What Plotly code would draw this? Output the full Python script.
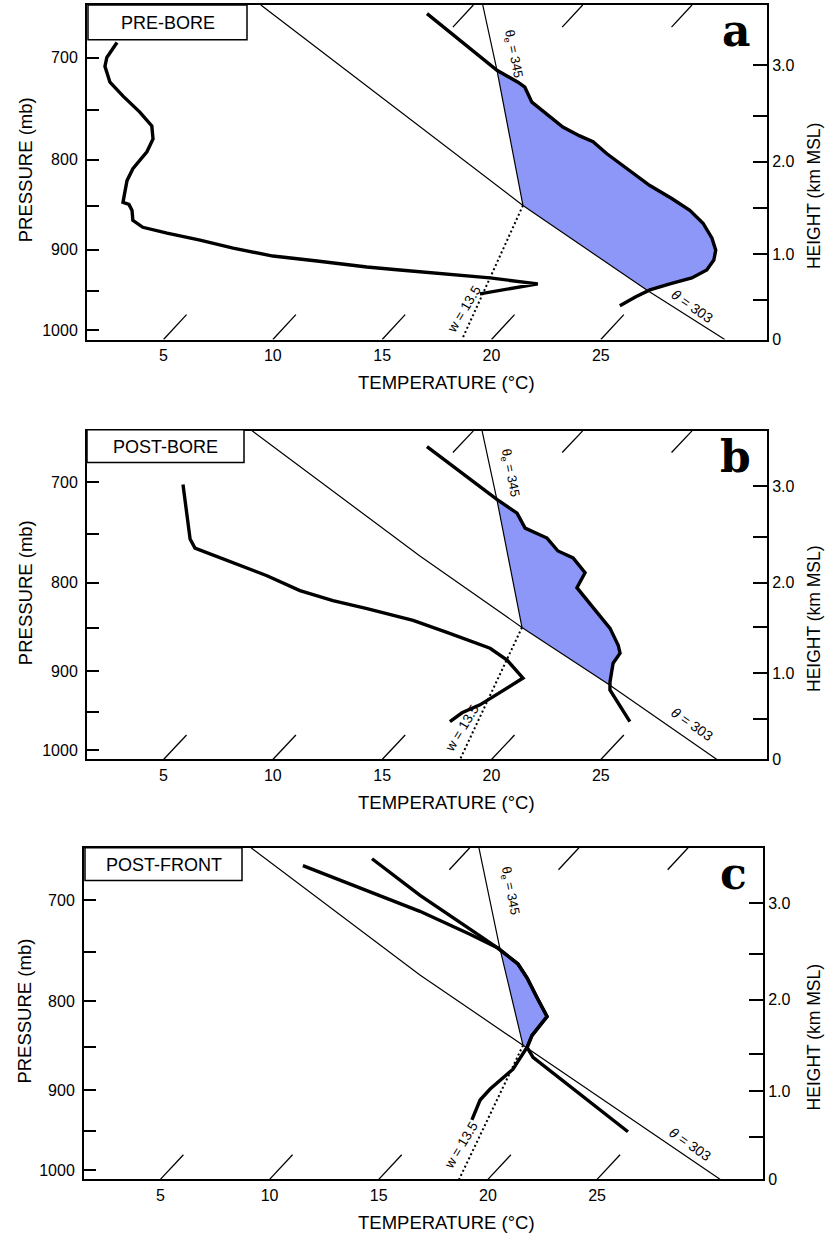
import numpy as np
import plotly.graph_objects as go

# ---------------- sounding data (pressure in mb, temperature in degC) ----------------
# (a) PRE-BORE
a_temp_p = [661.0, 711.8, 722.9, 727.7, 742.0, 753.6, 766.5, 775.5, 781.5, 793.8, 809.4, 827.5,
            841.6, 854.8, 869.3, 886.4, 900.4, 912.1, 924.1, 933.7, 941.0, 948.4, 957.0, 968.3]
a_temp_T = [3.25, 8.85, 10.31, 10.84, 11.79, 12.98, 14.26, 15.41, 16.27, 17.41, 18.95, 20.72,
            22.27, 23.60, 24.75, 25.79, 26.47, 26.80, 26.90, 26.55, 25.80, 25.14, 24.79, 24.44]
a_dew_p = [686.3, 699.9, 708.1, 722.9, 736.2, 751.7, 765.5, 778.5, 791.8, 809.4, 822.2, 836.1,
           846.0, 848.2, 854.8, 866.0, 873.9, 880.7, 888.7, 898.0, 907.4, 913.3, 920.5, 924.1,
           928.9, 933.7, 941.0, 953.3]
a_dew_T = [-9.71, -9.54, -9.25, -8.35, -7.16, -5.72, -4.58, -3.98, -3.71, -3.64, -3.40, -2.95,
           -2.66, -2.30, -1.91, -1.45, -0.70, 0.66, 2.46, 4.31, 6.47, 8.70, 11.23, 12.86,
           15.32, 17.32, 19.76, 17.53]
a_theta_p = [653.5, 766.5, 849.3, 949.6, 1012.0]
a_theta_T = [-4.72, 7.73, 15.76, 25.09, 30.67]
a_thetae_p = [653.5, 711.8, 849.3]
a_thetae_T = [5.43, 8.85, 15.76]
a_w_p = [849.3, 1012.0]
a_w_T = [15.76, 18.65]
a_height_p = [1011.9, 960.8, 905.1, 852.7, 802.2, 755.7, 707.3]

# (b) POST-BORE
b_temp_p = [667.4, 715.9, 729.2, 743.8, 753.7, 766.8, 773.9, 789.4, 805.2, 832.2, 850.0, 869.3,
            878.6, 890.3, 912.9, 922.6, 937.3, 962.4]
b_temp_T = [3.56, 9.03, 10.55, 11.56, 12.99, 14.05, 15.04, 16.23, 16.50, 18.48, 19.77, 20.87,
            21.30, 21.41, 22.08, 22.42, 23.26, 24.70]
b_dew_p = [701.8, 732.1, 754.7, 763.8, 779.0, 792.5, 808.4, 819.2, 827.9, 841.1, 854.5, 872.8,
           886.7, 908.1, 941.1, 951.1, 962.4]
b_dew_T = [-5.97, -4.42, -3.29, -2.68, -0.30, 1.81, 3.96, 5.90, 7.80, 10.42, 12.48, 15.14,
           16.43, 17.93, 17.12, 16.64, 16.47]
b_theta_p = [653.5, 771.9, 848.9, 915.3, 1012.0]
b_theta_T = [-5.12, 7.95, 15.70, 22.08, 30.31]
b_thetae_p = [653.5, 715.9, 848.9]
b_thetae_T = [5.40, 9.03, 15.70]
b_w_p = [848.9, 1012.0]
b_w_T = [15.70, 18.56]
b_height_p = [1011.9, 958.6, 902.1, 848.9, 799.9, 752.7, 703.7]

# (c) POST-FRONT
c_temp_p = [663.0, 695.9, 729.5, 745.9, 761.7, 775.8, 796.4, 816.4, 837.0, 850.2, 861.5, 950.4]
c_temp_T = [0.99, 4.76, 8.71, 10.57, 12.17, 13.18, 14.49, 15.75, 15.87, 16.15, 16.85, 24.38]
c_dew_p = [669.1, 691.4, 710.6, 732.4, 745.9, 761.7, 775.8, 796.4, 816.4, 837.0, 850.2, 875.1,
           898.3, 911.4, 935.5]
c_dew_T = [-1.88, 2.11, 5.43, 8.70, 10.57, 12.17, 13.18, 14.49, 15.75, 15.87, 16.15, 16.44,
           16.24, 16.25, 16.72]
c_theta_p = [653.5, 772.8, 848.0, 1012.0]
c_theta_T = [-5.02, 8.15, 15.88, 30.63]
c_thetae_p = [653.5, 745.9, 848.0]
c_thetae_T = [5.42, 10.66, 15.88]
c_w_p = [848.0, 1012.0]
c_w_T = [15.88, 18.68]
c_height_p = [1011.9, 956.6, 900.7, 858.1, 798.5, 751.8, 703.2]

# axis ticks
pressure_ticks = [700, 750, 800, 850, 900, 950, 1000]
pressure_labels = ["700", "", "800", "", "900", "", "1000"]
height_labels = ["0", "", "1.0", "", "2.0", "", "3.0"]
temp_ticks = [5, 10, 15, 20, 25]
top_isotherms = [5, 10, 15]

# ---------------- diagram geometry ----------------
W, H = 827, 1239
P_TOP, P_BOT = 653.5, 1012.0
X_MIN, X_MAX = 1.5, 32.6
SKEW = 32.4            # isotherm shift, degC per unit ln(p)
BOT_TICK_LN = 0.0325   # isotherm tick length (ln p) at the bottom edge
TOP_TICK_LN = 0.0289   # isotherm tick length (ln p) at the top edge

FILL = "#8d97f7"
FONT = "Liberation Sans"


def sx(T, p):
    """Skewed horizontal coordinate for temperature T at pressure p."""
    return np.asarray(T, float) + SKEW * np.log(P_BOT / np.asarray(p, float))


def px(x):
    return x / W


def py(y):
    return 1 - y / H


def warm_region(env_p, env_T, par_p, par_T):
    """Polygon where the environment is warmer than the parcel path."""
    lo = np.log(max(min(env_p), min(par_p)))
    hi = np.log(min(max(env_p), max(par_p)))
    lp = np.linspace(lo, hi, 3000)
    e = np.interp(lp, np.log(env_p), env_T)
    q = np.interp(lp, np.log(par_p), par_T)
    idx = np.flatnonzero(e > q)
    runs = np.split(idx, np.flatnonzero(np.diff(idx) > 1) + 1)
    run = max(runs, key=len)
    p = np.exp(lp[run])
    return np.concatenate([p, p[::-1]]), np.concatenate([e[run], q[run][::-1]])


def note(text, x, y, size, angle=0, family=FONT, xanchor="center"):
    return dict(text=text, x=px(x), y=py(y), xref="paper", yref="paper", showarrow=False,
                xanchor=xanchor, yanchor="middle", textangle=angle,
                font=dict(family=family, size=size, color="black"))


panels = [
    dict(name="PRE-BORE", letter="a", box=(87, 5, 767, 342), tbox=(88, 5, 247, 40),
         temp=(a_temp_p, a_temp_T), dew=(a_dew_p, a_dew_T), theta=(a_theta_p, a_theta_T),
         thetae=(a_thetae_p, a_thetae_T), w=(a_w_p, a_w_T), hp=a_height_p,
         lab_te=(513, 54), lab_th=(692, 308), lab_w=(464, 312)),
    dict(name="POST-BORE", letter="b", box=(87, 434, 767, 765), tbox=(87, 433, 244, 466),
         temp=(b_temp_p, b_temp_T), dew=(b_dew_p, b_dew_T), theta=(b_theta_p, b_theta_T),
         thetae=(b_thetae_p, b_thetae_T), w=(b_w_p, b_w_T), hp=b_height_p,
         lab_te=(510, 477), lab_th=(692, 729), lab_w=(462, 734)),
    dict(name="POST-FRONT", letter="c", box=(84, 854, 763, 1188), tbox=(85, 854, 242, 887),
         temp=(c_temp_p, c_temp_T), dew=(c_dew_p, c_dew_T), theta=(c_theta_p, c_theta_T),
         thetae=(c_thetae_p, c_thetae_T), w=(c_w_p, c_w_T), hp=c_height_p,
         lab_te=(510, 898), lab_th=(690, 1152), lab_w=(461, 1154)),
]

fig = go.Figure()
layout = {}
annotations = []
shapes = []

for i, pn in enumerate(panels):
    n = i + 1
    xa = "x" if n == 1 else f"x{n}"
    ya = "y" if n == 1 else f"y{n}"
    yr = f"y{n + 3}"
    L, T, R, B = pn["box"]

    tp, tT = pn["temp"]
    dp, dT = pn["dew"]
    thp, thT = pn["theta"]
    tep, teT = pn["thetae"]
    wp, wT = pn["w"]

    # parcel path: moist adiabat above the LCL, dry adiabat below
    lcl = tep[-1]
    par_p = list(tep) + [p for p in thp if p > lcl]
    par_T = list(teT) + [t for p, t in zip(thp, thT) if p > lcl]
    fp, fT = warm_region(tp, tT, par_p, par_T)

    common = dict(xaxis=xa, yaxis=ya, showlegend=False, hoverinfo="skip")
    fig.add_trace(go.Scatter(x=sx(fT, fp), y=fp, mode="lines", fill="toself",
                             fillcolor=FILL, line=dict(width=0), **common))

    # isotherm ticks along the top and bottom edges
    for t0 in temp_ticks:
        pp = np.array([P_BOT, P_BOT * np.exp(-BOT_TICK_LN)])
        fig.add_trace(go.Scatter(x=sx([t0, t0], pp), y=pp, mode="lines",
                                 line=dict(color="black", width=1.3), **common))
    for t0 in top_isotherms:
        pp = np.array([P_TOP, P_TOP * np.exp(TOP_TICK_LN)])
        fig.add_trace(go.Scatter(x=sx([t0, t0], pp), y=pp, mode="lines",
                                 line=dict(color="black", width=1.3), **common))

    # reference lines
    fig.add_trace(go.Scatter(x=sx(thT, thp), y=thp, mode="lines",
                             line=dict(color="black", width=1.2), **common))
    fig.add_trace(go.Scatter(x=sx(teT, tep), y=tep, mode="lines",
                             line=dict(color="black", width=1.2), **common))
    fig.add_trace(go.Scatter(x=sx(wT, wp), y=wp, mode="lines",
                             line=dict(color="black", width=2, dash="2px,2.6px"), **common))

    # temperature and dewpoint profiles
    fig.add_trace(go.Scatter(x=sx(tT, tp), y=tp, mode="lines",
                             line=dict(color="black", width=3.4), **common))
    fig.add_trace(go.Scatter(x=sx(dT, dp), y=dp, mode="lines",
                             line=dict(color="black", width=3.4), **common))

    # height axis carrier
    fig.add_trace(go.Scatter(x=[None], y=[None], xaxis=xa, yaxis=yr, showlegend=False,
                             hoverinfo="skip"))

    xdom = [px(L), px(R)]
    ydom = [py(B), py(T)]
    yrange = [np.log10(P_BOT), np.log10(P_TOP)]
    tickfont = dict(family=FONT, size=16, color="black")

    layout["xaxis" if n == 1 else f"xaxis{n}"] = dict(
        domain=xdom, range=[X_MIN, X_MAX], anchor=ya, tickvals=temp_ticks,
        ticktext=[str(t) for t in temp_ticks], ticks="", showline=True, mirror=True,
        linecolor="black", linewidth=2, showgrid=False, zeroline=False, tickfont=tickfont,
        fixedrange=True)
    layout["yaxis" if n == 1 else f"yaxis{n}"] = dict(
        domain=ydom, type="log", range=yrange, anchor=xa, tickvals=pressure_ticks,
        ticktext=pressure_labels, ticks="inside", ticklen=12, tickwidth=1.5,
        tickcolor="black", showline=True, linecolor="black", linewidth=2,
        showgrid=False, zeroline=False, tickfont=tickfont, ticklabelstandoff=4)
    layout[f"yaxis{n + 3}"] = dict(
        domain=ydom, type="log", range=yrange, anchor=xa, overlaying=ya, side="right",
        tickvals=pn["hp"], ticktext=height_labels, ticks="inside", ticklen=14,
        tickwidth=1.5, tickcolor="black", showline=True, linecolor="black", linewidth=2,
        showgrid=False, zeroline=False, tickfont=tickfont)

    # panel title box
    x0, y0, x1, y1 = pn["tbox"]
    shapes.append(dict(type="rect", xref="paper", yref="paper", x0=px(x0), x1=px(x1),
                       y0=py(y1), y1=py(y0), line=dict(color="black", width=1.5),
                       fillcolor="white"))
    annotations.append(note(pn["name"], (x0 + x1) / 2, (y0 + y1) / 2 + 0.5, 18))
    # panel letter
    annotations.append(note(f"<b>{pn['letter']}</b>", R - 14, T + 26, 44,
                            family="DejaVu Serif", xanchor="right"))
    # line labels
    annotations.append(note("θ<sub>e</sub> = 345", *pn["lab_te"], 13, angle=79))
    annotations.append(note("<i>θ</i> = 303", *pn["lab_th"], 14, angle=35))
    annotations.append(note("w = 13.5", *pn["lab_w"], 13.5, angle=-59))

    # axis titles
    annotations.append(note("PRESSURE (mb)", 25, (T + B) / 2 - 2, 18.5, angle=-90))
    annotations.append(note("HEIGHT (km MSL)", 814, (T + B) / 2 + 24, 17.5, angle=-90))
    annotations.append(note("TEMPERATURE (°C)", 447, B + 43, 18.5))

fig.update_layout(
    width=W, height=H, margin=dict(l=0, r=0, t=0, b=0),
    paper_bgcolor="white", plot_bgcolor="white", showlegend=False,
    annotations=annotations, shapes=shapes, **layout)

fig.write_html("out.html")
